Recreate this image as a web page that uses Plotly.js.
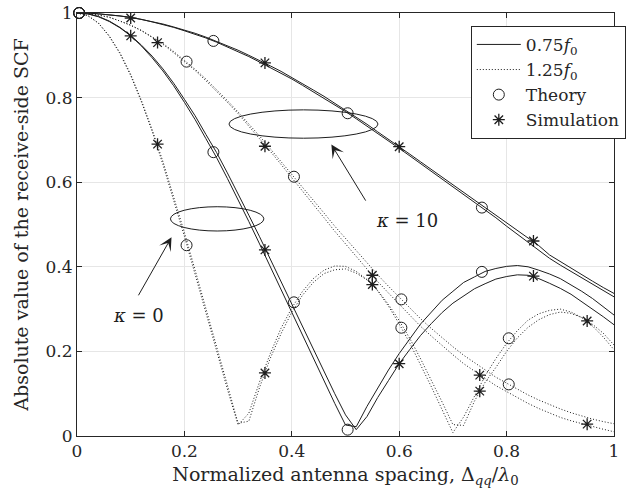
<!DOCTYPE html>
<html>
<head>
<meta charset="utf-8">
<script src="https://cdn.plot.ly/plotly-3.0.1.min.js"></script>
<style>html,body{margin:0;padding:0;background:#fff;}#chart{width:643px;height:497px;}</style>
</head>
<body>
<div id="chart"></div>
<script>
// Normalized antenna spacing grid
const spacing = [0,0.02,0.04,0.06,0.08,0.10,0.12,0.14,0.16,0.18,0.20,0.22,0.24,0.26,0.28,0.30,0.32,0.34,0.36,0.38,0.40,0.42,0.44,0.46,0.48,0.50,0.52,0.54,0.56,0.58,0.60,0.62,0.64,0.66,0.68,0.70,0.72,0.74,0.76,0.78,0.80,0.82,0.84,0.86,0.88,0.90,0.92,0.94,0.96,0.98,1.00];

// kappa = 0, 0.75 f0
const theoryK0f075 = [1,0.998,0.991,0.980,0.965,0.946,0.922,0.894,0.863,0.828,0.789,0.748,0.703,0.658,0.609,0.559,0.507,0.454,0.400,0.345,0.291,0.236,0.183,0.129,0.077,0.026,0.022,0.070,0.114,0.156,0.195,0.231,0.265,0.293,0.321,0.342,0.363,0.376,0.389,0.396,0.401,0.403,0.400,0.392,0.383,0.372,0.358,0.342,0.325,0.306,0.286];
const simK0f075 = [1,0.998,0.992,0.981,0.966,0.947,0.924,0.898,0.868,0.834,0.796,0.757,0.713,0.670,0.622,0.573,0.522,0.471,0.418,0.365,0.311,0.257,0.204,0.152,0.100,0.050,0.015,0.046,0.091,0.131,0.171,0.205,0.238,0.266,0.292,0.314,0.331,0.348,0.360,0.371,0.377,0.381,0.380,0.372,0.361,0.349,0.335,0.318,0.300,0.282,0.263];
// kappa = 0, 1.25 f0
const theoryK0f125 = [1,0.994,0.976,0.945,0.904,0.852,0.790,0.720,0.642,0.559,0.472,0.382,0.291,0.200,0.111,0.026,0.054,0.128,0.195,0.255,0.303,0.342,0.372,0.392,0.402,0.401,0.389,0.370,0.343,0.307,0.265,0.219,0.169,0.116,0.062,0.008,0.045,0.095,0.142,0.183,0.219,0.249,0.274,0.289,0.297,0.300,0.293,0.280,0.260,0.234,0.204];
const simK0f125 = [1,0.994,0.976,0.946,0.906,0.855,0.793,0.724,0.649,0.567,0.481,0.392,0.302,0.212,0.124,0.030,0.035,0.115,0.184,0.242,0.293,0.333,0.363,0.384,0.393,0.395,0.385,0.369,0.344,0.311,0.273,0.230,0.182,0.132,0.080,0.027,0.025,0.082,0.127,0.162,0.200,0.232,0.257,0.275,0.287,0.293,0.290,0.280,0.264,0.243,0.215];
// kappa = 10, 0.75 f0
const theoryK10f075 = [1,1.000,0.998,0.996,0.993,0.989,0.985,0.979,0.973,0.966,0.958,0.950,0.941,0.931,0.920,0.909,0.897,0.884,0.871,0.858,0.844,0.829,0.814,0.799,0.783,0.767,0.750,0.733,0.716,0.698,0.680,0.662,0.644,0.626,0.607,0.589,0.571,0.553,0.534,0.516,0.496,0.477,0.458,0.439,0.420,0.404,0.389,0.373,0.358,0.343,0.329];
const simK10f075 = [1,1.000,0.998,0.996,0.993,0.990,0.985,0.980,0.974,0.967,0.960,0.952,0.943,0.933,0.923,0.912,0.900,0.888,0.875,0.862,0.848,0.833,0.818,0.803,0.787,0.770,0.754,0.737,0.719,0.702,0.684,0.666,0.648,0.630,0.612,0.594,0.576,0.558,0.540,0.522,0.505,0.487,0.470,0.450,0.428,0.412,0.396,0.381,0.366,0.351,0.337];
// kappa = 10, 1.25 f0
const theoryK10f125 = [1,0.999,0.995,0.990,0.981,0.971,0.959,0.944,0.928,0.909,0.889,0.867,0.844,0.819,0.793,0.766,0.738,0.709,0.679,0.649,0.619,0.588,0.557,0.527,0.496,0.467,0.437,0.409,0.381,0.354,0.328,0.302,0.277,0.254,0.232,0.211,0.191,0.173,0.155,0.139,0.125,0.110,0.097,0.085,0.074,0.064,0.055,0.047,0.040,0.034,0.029];
const simK10f125 = [1,0.999,0.995,0.990,0.981,0.971,0.958,0.942,0.926,0.906,0.886,0.864,0.840,0.815,0.789,0.762,0.733,0.703,0.673,0.642,0.611,0.579,0.547,0.516,0.484,0.454,0.423,0.394,0.365,0.338,0.311,0.284,0.259,0.236,0.213,0.192,0.171,0.153,0.135,0.119,0.105,0.090,0.077,0.065,0.054,0.044,0.036,0.029,0.023,0.016,0.010];

// Theory markers (circles)
const circX075 = [0.004,0.254,0.504,0.754];
const circK0f075 = [1,0.671,0.015,0.388];
const circK10f075 = [1,0.934,0.763,0.540];
const circX125 = [0.004,0.204,0.404,0.604,0.804];
const circK0f125 = [1,0.451,0.316,0.256,0.231];
const circK10f125 = [1,0.885,0.613,0.323,0.122];
// Simulation markers (asterisks)
const starX075 = [0.10,0.35,0.60,0.85];
const starK0f075 = [0.946,0.440,0.171,0.378];
const starK10f075 = [0.988,0.882,0.684,0.461];
const starX125 = [0.15,0.35,0.55,0.75,0.95];
const starK0f125 = [0.690,0.149,0.358,0.106,0.272];
const starK10f125 = [0.930,0.685,0.380,0.144,0.028];

const tickVals = [0,0.2,0.4,0.6,0.8,1];
const tickText = ['0','0.2','0.4','0.6','0.8','1'];

const ink = '#1e1e1e';
const FONT = 'DejaVu Serif';

function lineTrace(y, dash, name, show) {
  return {x: spacing, y: y, type: 'scatter', mode: 'lines', name: name, showlegend: show,
    line: {color: ink, width: 1, dash: dash}, cliponaxis: false, hoverinfo: 'skip'};
}
function markTrace(x, y, symbol, size, lw, name, show) {
  return {x: x, y: y, type: 'scatter', mode: 'markers', name: name, showlegend: show,
    marker: {symbol: symbol, size: size, color: ink, line: {color: ink, width: lw}},
    cliponaxis: false, hoverinfo: 'skip'};
}

const traces = [
  lineTrace(theoryK0f075, 'solid', '0.75<i>f</i><sub>0</sub>', true),
  lineTrace(theoryK0f125, '1px,2px', '1.25<i>f</i><sub>0</sub>', true),
  lineTrace(simK0f075, 'solid', 'sim', false),
  lineTrace(simK0f125, '1px,2px', 'sim', false),
  lineTrace(theoryK10f075, 'solid', 'theory', false),
  lineTrace(simK10f075, 'solid', 'sim', false),
  lineTrace(theoryK10f125, '1px,2px', 'theory', false),
  lineTrace(simK10f125, '1px,2px', 'sim', false),
  markTrace(circX075.concat(circX075, circX125, circX125),
            circK0f075.concat(circK10f075, circK0f125, circK10f125), 'circle-open', 11, 1, 'Theory', true),
  markTrace(starX075.concat(starX075, starX125, starX125),
            starK0f075.concat(starK10f075, starK0f125, starK10f125), 'asterisk-open', 10, 1.3, 'Simulation', true)
];

const layout = {
  width: 643, height: 497,
  margin: {l: 77, r: 29, t: 13, b: 61, pad: 0},
  paper_bgcolor: '#ffffff', plot_bgcolor: '#ffffff',
  font: {family: FONT, size: 17, color: '#262626'},
  xaxis: {
    range: [0, 1], tickvals: tickVals, ticktext: tickText,
    showgrid: true, gridcolor: '#e6e6e6', gridwidth: 1, zeroline: false,
    showline: true, linecolor: '#262626', linewidth: 1, mirror: 'ticks',
    ticks: 'inside', ticklen: 5, tickcolor: '#262626',
    tickfont: {family: FONT, size: 17, color: '#262626'},
    title: {text: 'Normalized antenna spacing, Δ<sub><i>qq</i></sub>/<i>λ</i><sub>0</sub>',
            font: {family: FONT, size: 19, color: '#262626'}, standoff: 7}
  },
  yaxis: {
    range: [0, 1], tickvals: tickVals, ticktext: tickText,
    showgrid: true, gridcolor: '#e6e6e6', gridwidth: 1, zeroline: false,
    showline: true, linecolor: '#262626', linewidth: 1, mirror: 'ticks',
    ticks: 'inside', ticklen: 5, tickcolor: '#262626',
    tickfont: {family: FONT, size: 17, color: '#262626'},
    title: {text: 'Absolute value of the receive-side SCF',
            font: {family: FONT, size: 19, color: '#262626'}, standoff: 11}
  },
  legend: {
    x: 1.022, y: 0.836, xanchor: 'right', yanchor: 'middle',
    bgcolor: '#ffffff', bordercolor: '#262626', borderwidth: 1,
    font: {family: FONT, size: 17, color: '#262626'},
    itemwidth: 44, tracegroupgap: 0, traceorder: 'normal'
  },
  shapes: [
    {type: 'circle', xref: 'x', yref: 'y', x0: 0.283, x1: 0.5605, y0: 0.704, y1: 0.771,
     line: {color: ink, width: 1}},
    {type: 'circle', xref: 'x', yref: 'y', x0: 0.174, x1: 0.348, y0: 0.4846, y1: 0.542,
     line: {color: ink, width: 1}}
  ],
  annotations: [
    {x: 0.4737, y: 0.689, ax: 0.545, ay: 0.541, xref: 'x', yref: 'y', axref: 'x', ayref: 'y',
     text: ' ', showarrow: true, arrowhead: 3, arrowsize: 2.2, arrowwidth: 1, arrowcolor: ink},
    {x: 0.176, y: 0.470, ax: 0.107, ay: 0.316, xref: 'x', yref: 'y', axref: 'x', ayref: 'y',
     text: ' ', showarrow: true, arrowhead: 3, arrowsize: 2.2, arrowwidth: 1, arrowcolor: ink},
    {x: 0.614, y: 0.51, xref: 'x', yref: 'y', text: '<i>κ</i> = 10', showarrow: false,
     font: {family: FONT, size: 18, color: ink}},
    {x: 0.1145, y: 0.286, xref: 'x', yref: 'y', text: '<i>κ</i> = 0', showarrow: false,
     font: {family: FONT, size: 18, color: ink}}
  ]
};

Plotly.newPlot('chart', traces, layout, {staticPlot: true, displayModeBar: false});
</script>
</body>
</html>
